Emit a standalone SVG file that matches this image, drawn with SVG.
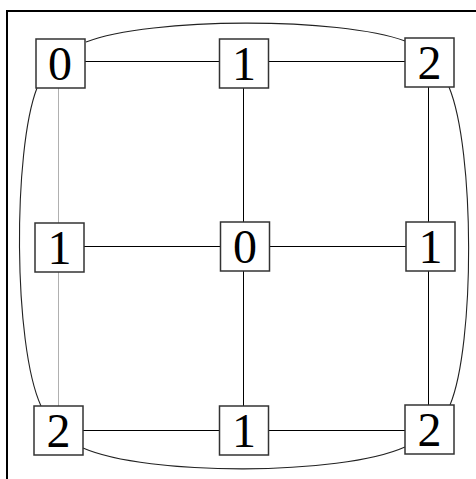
<svg xmlns="http://www.w3.org/2000/svg" width="476" height="479" viewBox="0 0 476 479">
<style>
.box{fill:#fff;stroke:#333;stroke-width:1.5}
.lbl{font-family:"Liberation Serif","Times New Roman","DejaVu Serif",serif;font-size:48px;fill:#000;text-anchor:middle}
.e{stroke:#000;stroke-width:1;fill:none}
.g{stroke:#b0b0b0;stroke-width:1;fill:none}
.c{stroke:#222;stroke-width:1.1;fill:none}
</style>
<rect width="476" height="479" fill="#fff"/>
<g id="frame">
<line x1="7" y1="10" x2="7" y2="479" stroke="#000" stroke-width="2"/>
<line x1="6" y1="11" x2="476" y2="11" stroke="#000" stroke-width="2"/>
</g>
<g id="connectors">
<line class="e" x1="85" y1="61.5" x2="220" y2="61.5"/>
<line class="e" x1="268" y1="61.5" x2="405" y2="61.5"/>
<line class="e" x1="84" y1="246.5" x2="221" y2="246.5"/>
<line class="e" x1="269" y1="246.5" x2="406" y2="246.5"/>
<line class="e" x1="83" y1="430.5" x2="220" y2="430.5"/>
<line class="e" x1="268" y1="430.5" x2="405" y2="430.5"/>
<line class="e" x1="243.5" y1="88" x2="243.5" y2="222"/>
<line class="e" x1="243.5" y1="271" x2="243.5" y2="406"/>
<line class="e" x1="428.5" y1="87" x2="428.5" y2="222"/>
<line class="e" x1="428.5" y1="271" x2="428.5" y2="405"/>
<line class="g" x1="58.5" y1="88" x2="58.5" y2="223"/>
<line class="g" x1="58.5" y1="272" x2="58.5" y2="406"/>
<path class="c" d="M86,42 C150,17 340,17 405,41"/>
<path class="c" d="M37,88 C13,150 13,345 41,406"/>
<path class="c" d="M449,87 C475,150 475,345 450,405"/>
<path class="c" d="M83,448 C147,476 340,476 405,447"/>
</g>
<g id="n00"><rect class="box" x="36" y="39" width="49" height="49"/><text class="lbl" x="60" y="80">0</text></g>
<g id="n01"><rect class="box" x="219.5" y="39" width="49" height="49"/><text class="lbl" x="244" y="80">1</text></g>
<g id="n02"><rect class="box" x="405" y="38" width="49" height="49"/><text class="lbl" x="429.5" y="79">2</text></g>
<g id="n10"><rect class="box" x="35" y="223" width="49" height="49"/><text class="lbl" x="59.5" y="264">1</text></g>
<g id="n11"><rect class="box" x="220.5" y="222" width="49" height="49"/><text class="lbl" x="245" y="263">0</text></g>
<g id="n12"><rect class="box" x="406" y="222" width="49" height="49"/><text class="lbl" x="430.5" y="263">1</text></g>
<g id="n20"><rect class="box" x="34" y="406" width="49" height="49"/><text class="lbl" x="58.5" y="447">2</text></g>
<g id="n21"><rect class="box" x="219.5" y="406" width="49" height="49"/><text class="lbl" x="244" y="447">1</text></g>
<g id="n22"><rect class="box" x="405" y="405" width="49" height="49"/><text class="lbl" x="429.5" y="446">2</text></g>
</svg>
